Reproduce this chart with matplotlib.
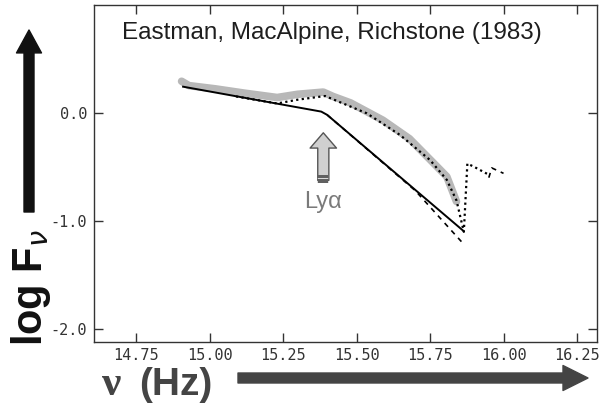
import numpy as np
import matplotlib.pyplot as plt

# gray band (observed spectrum)
band_x = [14.905, 14.93, 15.02, 15.12, 15.23, 15.30, 15.387, 15.42, 15.48, 15.59, 15.68, 15.76, 15.807, 15.84]
band_y = [0.29, 0.25, 0.22, 0.18, 0.14, 0.17, 0.19, 0.15, 0.09, -0.07, -0.24, -0.46, -0.59, -0.82]

# solid model
solid_x = [14.91, 15.38, 15.40, 15.863]
solid_y = [0.24, 0.01, -0.02, -1.09]

# dotted model
dot_x = [15.09, 15.23, 15.30, 15.393, 15.535, 15.648, 15.75, 15.807, 15.84, 15.865, 15.877, 15.90, 15.948]
dot_y = [0.15, 0.085, 0.12, 0.154, -0.006, -0.206, -0.437, -0.62, -0.81, -1.10, -0.47, -0.50, -0.57]

# dashed model
dash_x = [15.40, 15.70, 15.86]
dash_y = [-0.02, -0.72, -1.20]
dash2_x = [15.95, 15.96, 16.00]
dash2_y = [-0.60, -0.51, -0.56]

xticks = [14.75, 15.00, 15.25, 15.50, 15.75, 16.00, 16.25]
yticks = [0.0, -1.0, -2.0]
lya_x = 15.387

fig = plt.figure(figsize=(6.10, 4.08), dpi=100)
ax = fig.add_axes([0.1541, 0.1618, 0.8246, 0.8259])

ax.plot(band_x, band_y, color='#b8b8b8', lw=5.5, solid_capstyle='round', zorder=1)
ax.plot(solid_x, solid_y, color='black', lw=1.4, zorder=3)
ax.plot(dot_x, dot_y, color='black', lw=1.6, linestyle=(0, (1, 1.5)), zorder=2)
ax.plot(dash_x, dash_y, color='black', lw=1.2, linestyle=(0, (3, 3)), zorder=2)
ax.plot(dash2_x, dash2_y, color='black', lw=1.2, linestyle=(0, (3, 3)), zorder=2)

ax.set_xlim(14.607, 16.318)
ax.set_ylim(-2.117, 0.994)
ax.set_xticks(xticks)
ax.set_xticklabels(['%.2f' % v for v in xticks])
ax.set_yticks(yticks)
ax.set_yticklabels(['%.1f' % v for v in yticks])
ax.tick_params(direction='in', length=6.5, width=1, top=True, right=True,
               labelsize=11, labelcolor='#333333', color='#333333')
ax.tick_params(axis='x', pad=4)
ax.tick_params(axis='y', pad=5)
for lab in ax.get_xticklabels() + ax.get_yticklabels():
    lab.set_family('DejaVu Sans Mono')
for s in ax.spines.values():
    s.set_color('#333333')
    s.set_linewidth(1.0)

# title inside plot
ax.text(0.055, 0.95, 'Eastman, MacAlpine, Richstone (1983)', transform=ax.transAxes,
        ha='left', va='top', fontsize=17.5, family='Liberation Sans', color='#1e1e1e')

# Ly-alpha arrow
ax.annotate('', xy=(lya_x, -0.16), xytext=(lya_x, -0.65),
            arrowprops=dict(arrowstyle='simple,head_length=1.1,head_width=1.9,tail_width=0.8',
                            mutation_scale=10, fc='#d0d0d0', ec='#555555', lw=1), zorder=4)
ax.plot([lya_x, lya_x], [-0.575, -0.648], color='#606060', lw=7.5, solid_capstyle='butt', zorder=5)
ax.plot([lya_x, lya_x], [-0.60, -0.612], color='#d8d8d8', lw=7.5, solid_capstyle='butt', zorder=6)
ax.text(lya_x, -0.82, 'Ly\u03b1', ha='center', va='center', fontsize=17,
        family='Liberation Sans', color='#7a7a7a')

# big axis arrows and labels
ax.annotate('', xy=(29 / 610, 1 - 30 / 408), xycoords='figure fraction',
            xytext=(29 / 610, 1 - 212 / 408), textcoords='figure fraction',
            arrowprops=dict(width=7.2, headwidth=18, headlength=16.5, shrink=0,
                            fc='#111111', ec='#111111'), annotation_clip=False)
ax.annotate('', xy=(588 / 610, 1 - 378 / 408), xycoords='figure fraction',
            xytext=(238 / 610, 1 - 378 / 408), textcoords='figure fraction',
            arrowprops=dict(width=7.2, headwidth=18, headlength=18, shrink=0,
                            fc='#444444', ec='#444444'), annotation_clip=False)

fig.text(31 / 610, 1 - 287 / 408, r'log F$_{\nu}$', rotation=90, ha='center', va='center',
         fontsize=30, fontweight='bold', family='Liberation Sans', color='#111111')
fig.text(102 / 610, 13 / 408, '\u03bd', ha='left', va='baseline', fontsize=31,
         fontweight='bold', family='Liberation Serif', color='#444444')
fig.text(139 / 610, 13 / 408, '(Hz)', ha='left', va='baseline', fontsize=28,
         fontweight='bold', family='Liberation Sans', color='#444444')

fig.savefig('out.png', dpi=100)
